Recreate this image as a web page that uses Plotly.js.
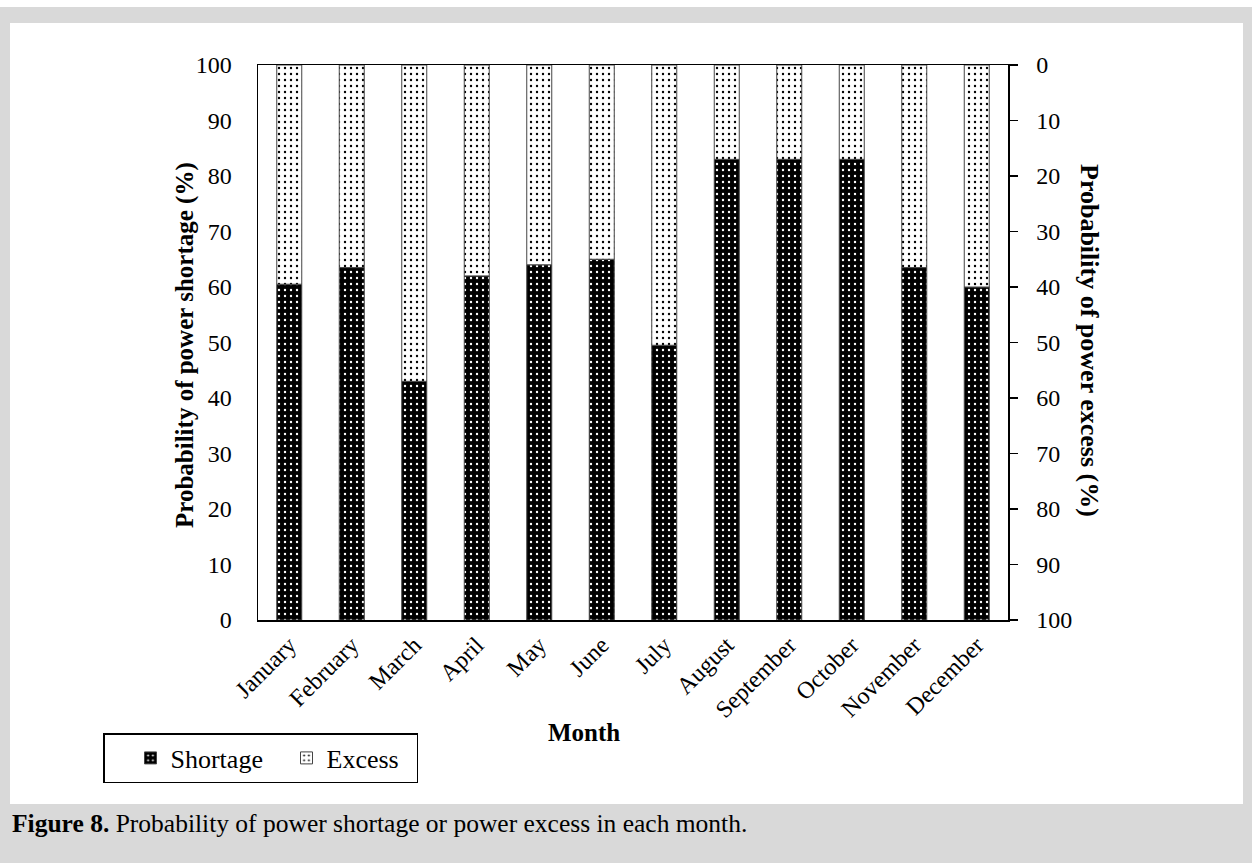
<!DOCTYPE html>
<html>
<head>
<meta charset="utf-8">
<script src="https://cdn.plot.ly/plotly-3.0.1.min.js"></script>
<style>
html,body{margin:0;padding:0;background:#d9d9d9;}
#chart{width:1252px;height:863px;}
</style>
</head>
<body>
<div id="chart"></div>
<script>
const months = ["January","February","March","April","May","June","July","August","September","October","November","December"];
const shortage = [60.5, 63.5, 43, 62, 64, 65, 49.5, 83, 83, 83, 63.5, 60];
const excess = [39.5, 36.5, 57, 38, 36, 35, 50.5, 17, 17, 17, 36.5, 40];
const leftTicks = [0,10,20,30,40,50,60,70,80,90,100];

const FONT = "Liberation Serif, Times New Roman, serif";
const TICK = 24, TITLE = 25;

const traces = [
  {
    type: "bar", name: "Shortage", x: months, y: shortage, yaxis: "y",
    width: 0.4,
    marker: {
      color: "#000000",
      line: {color: "#444444", width: 1},
      pattern: {shape: ".", bgcolor: "#000000", fgcolor: "#ffffff", size: 6, solidity: 0.12, fillmode: "replace"}
    },
    hoverinfo: "skip"
  },
  {
    type: "bar", name: "Excess", x: months, y: excess, yaxis: "y2",
    width: 0.4,
    marker: {
      color: "#ffffff",
      line: {color: "#444444", width: 1},
      pattern: {shape: ".", bgcolor: "#ffffff", fgcolor: "#000000", size: 6, solidity: 0.12, fillmode: "replace"}
    },
    hoverinfo: "skip"
  }
];

const L = 258, R = 1008, T = 65, B = 620;
const W = R - L, H = B - T;
const px = v => (v - L) / W;
const py = v => (B - v) / H;

const layout = {
  width: 1252, height: 863,
  paper_bgcolor: "#d9d9d9",
  plot_bgcolor: "rgba(0,0,0,0)",
  margin: {l: L, r: 1252 - R, t: T, b: 863 - B, pad: 0},
  font: {family: FONT, size: TICK, color: "#000"},
  barmode: "overlay",
  showlegend: true,
  xaxis: {
    type: "category",
    showline: true, linecolor: "#000", linewidth: 1.5, mirror: true,
    showgrid: false, zeroline: false,
    ticks: "", tickangle: -45,
    tickfont: {family: FONT, size: TICK, color: "#000"}
  },
  yaxis: {
    range: [0, 100], tickvals: leftTicks,
    showline: true, linecolor: "#000", linewidth: 1.5,
    showgrid: false, zeroline: false,
    ticks: "", ticklabelstandoff: 20,
    tickfont: {family: FONT, size: TICK, color: "#000"}
  },
  yaxis2: {
    overlaying: "y", side: "right",
    range: [100, 0], tickvals: leftTicks,
    showline: true, linecolor: "#000", linewidth: 1.5,
    showgrid: false, zeroline: false,
    ticks: "outside", ticklen: 8, tickwidth: 1.5, tickcolor: "#000",
    ticklabelstandoff: 14,
    tickfont: {family: FONT, size: TICK, color: "#000"}
  },
  legend: {
    orientation: "h",
    x: px(103), xanchor: "left",
    y: py(733), yanchor: "top",
    bgcolor: "#ffffff", bordercolor: "#000", borderwidth: 1.5,
    font: {family: FONT, size: 26, color: "#000"},
    entrywidth: 85, entrywidthmode: "pixels",
    indentation: 26,
    itemclick: false, itemdoubleclick: false
  },
  shapes: [
    {type: "rect", xref: "paper", yref: "paper", layer: "below",
     x0: px(0), x1: px(1252), y0: py(7), y1: py(0),
     fillcolor: "#ffffff", line: {width: 0}},
    {type: "rect", xref: "paper", yref: "paper", layer: "below",
     x0: px(10), x1: px(1243), y0: py(804), y1: py(23),
     fillcolor: "#ffffff", line: {width: 0}}
  ],
  annotations: [
    {text: "<b>Probability of power shortage (%)</b>", xref: "paper", yref: "paper",
     x: px(185), y: py(345), textangle: -90, showarrow: false,
     xanchor: "center", yanchor: "middle", font: {family: FONT, size: TITLE, color: "#000"}},
    {text: "<b>Probability of power excess (%)</b>", xref: "paper", yref: "paper",
     x: px(1090), y: py(340), textangle: 90, showarrow: false,
     xanchor: "center", yanchor: "middle", font: {family: FONT, size: 26, color: "#000"}},
    {text: "<b>Month</b>", xref: "paper", yref: "paper",
     x: px(584), y: py(732), showarrow: false,
     xanchor: "center", yanchor: "middle", font: {family: FONT, size: TITLE, color: "#000"}},
    {text: "<b>Figure 8.</b> Probability of power shortage or power excess in each month.",
     xref: "paper", yref: "paper",
     x: px(10), y: py(823), showarrow: false,
     xanchor: "left", yanchor: "middle", font: {family: FONT, size: 25.5, color: "#000"}}
  ]
};

Plotly.newPlot("chart", traces, layout, {staticPlot: true, displayModeBar: false});
</script>
</body>
</html>
